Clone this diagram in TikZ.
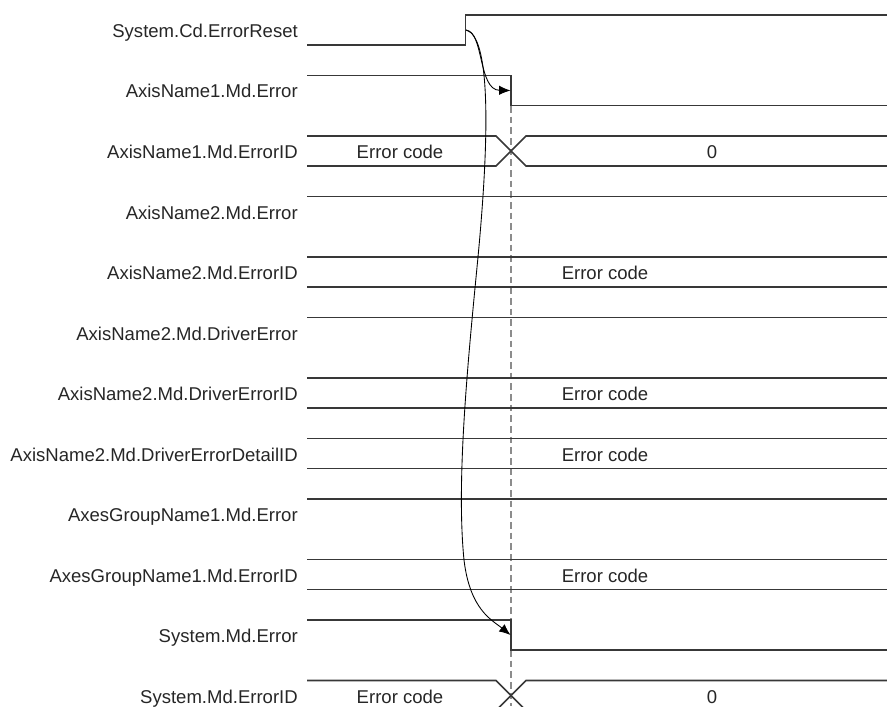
\documentclass[tikz,border=0pt]{standalone}
\usepackage{fontspec}
\setmainfont{Liberation Sans}
\usetikzlibrary{arrows.meta}

\begin{document}
\begin{tikzpicture}[
		x=0.75pt, y=-0.75pt,
		% Style des lignes de signal
		sigline/.style={
			draw=black!78,
			line width=1.25pt,
			line join=miter
		},
		% Style des noms de signaux à gauche
		signame/.style={
			font=\fontsize{13.9}{16}\selectfont,
			text=black!85,
			anchor=base east,
			inner sep=0pt
		},
		% Style des valeurs dans les bus
		datatxt/.style={
			font=\fontsize{13.9}{16}\selectfont,
			text=black!85,
			anchor=base,
			inner sep=0pt
		},
		% Style des flèches courbes
		flow/.style={
			draw=black,
			line width=0.65pt,
			-{Latex[length=8.5pt,width=7pt]}
		},
		% Style du repère vertical
		marker/.style={
			draw=black!45,
			line width=0.8pt,
			dash pattern=on 5pt off 3pt
		}
		]
		\clip (0,0) rectangle (887,706);
		
		% --- NOMS DES SIGNAUX ---
		\node[signame] (n1) at (298,37.5) {System.Cd.ErrorReset};
		\node[signame] (n2) at (298,98) {AxisName1.Md.Error};
		\node[signame] (n3) at (298,158.5) {AxisName1.Md.ErrorID};
		\node[signame] (n4) at (298,219) {AxisName2.Md.Error};
		\node[signame] (n5) at (298,279.5) {AxisName2.Md.ErrorID};
		\node[signame] (n6) at (298,340) {AxisName2.Md.DriverError};
		\node[signame] (n7) at (298,400.5) {AxisName2.Md.DriverErrorID};
		\node[signame] (n8) at (298,461) {AxisName2.Md.DriverErrorDetailID};
		\node[signame] (n9) at (298,521.5) {AxesGroupName1.Md.Error};
		\node[signame] (n10) at (298,582) {AxesGroupName1.Md.ErrorID};
		\node[signame] (n11) at (298,642.5) {System.Md.Error};
		\node[signame] (n12) at (298,703) {System.Md.ErrorID};
		
		% --- REPÈRE VERTICAL ---
		\draw[marker] (511,106) -- (511,706);
		
		% --- CHRONOGRAMMES ---
		% ErrorReset : front montant
		\draw[sigline] (307,45) -- (465.5,45) -- (465.5,15) -- (887,15);
		% AxisName1 : erreur effacée
		\draw[sigline] (307,75.5) -- (511,75.5) -- (511,105.5) -- (887,105.5);
		\draw[sigline] (307,136) -- (496,136) -- (526,166) -- (887,166);
		\draw[sigline] (307,166) -- (496,166) -- (526,136) -- (887,136);
		% AxisName2 : erreur maintenue
		\draw[sigline] (307,196.5) -- (887,196.5);
		\draw[sigline] (307,257) -- (887,257);
		\draw[sigline] (307,287) -- (887,287);
		\draw[sigline] (307,317.5) -- (887,317.5);
		\draw[sigline] (307,378) -- (887,378);
		\draw[sigline] (307,408) -- (887,408);
		\draw[sigline] (307,438.5) -- (887,438.5);
		\draw[sigline] (307,468.5) -- (887,468.5);
		% AxesGroupName1 : erreur maintenue
		\draw[sigline] (307,499) -- (887,499);
		\draw[sigline] (307,559.5) -- (887,559.5);
		\draw[sigline] (307,589.5) -- (887,589.5);
		% System : erreur effacée
		\draw[sigline] (307,620) -- (511,620) -- (511,650) -- (887,650);
		\draw[sigline] (307,680.5) -- (496,680.5) -- (526,710.5) -- (887,710.5);
		\draw[sigline] (307,710.5) -- (496,710.5) -- (526,680.5) -- (887,680.5);
		
		% --- VALEURS ---
		\node[datatxt] (v3a) at (400,158.5) {Error code};
		\node[datatxt] (v3b) at (712,158.5) {0};
		\node[datatxt] (v5) at (605,279.5) {Error code};
		\node[datatxt] (v7) at (605,400.5) {Error code};
		\node[datatxt] (v8) at (605,461) {Error code};
		\node[datatxt] (v10) at (605,582) {Error code};
		\node[datatxt] (v12a) at (400,703) {Error code};
		\node[datatxt] (v12b) at (712,703) {0};
		
		% --- FLÈCHES DE CAUSALITÉ ---
		\coordinate (rst) at (466,30);
		\coordinate (ax1) at (510.5,90.5);
		\coordinate (sys) at (510.5,635);
		\draw[flow] (rst) .. controls (484,32) and (478,90) .. (ax1);
		\draw[flow] (rst) .. controls (490,36) and (490,130) .. (478,257)
			.. controls (468,360) and (456,480) .. (464,560)
			.. controls (470,610) and (492,620) .. (sys);
		
	\end{tikzpicture}
\end{document}
